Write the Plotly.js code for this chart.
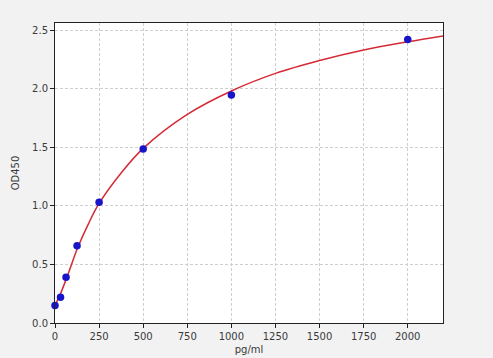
<!DOCTYPE html>
<html>
<head>
<meta charset="utf-8">
<script src="https://cdn.plot.ly/plotly-3.0.1.min.js"></script>
<style>html,body{margin:0;padding:0;background:#f2f2f2;}#chart{width:493px;height:358px;}</style>
</head>
<body>
<div id="chart"></div>
<script>
// Standard points (pg/ml vs OD450)
const concentration = [0, 31.25, 62.5, 125, 250, 500, 1000, 2000];
const od450 = [0.15, 0.22, 0.39, 0.66, 1.03, 1.485, 1.945, 2.42];

// Fitted curve
const curveX = [0, 15.6, 31.25, 62.5, 93.75, 125, 187.5, 250, 375, 500, 750, 1000, 1250, 1500, 1750, 2000, 2200];
const curveY = [0.14, 0.20, 0.25, 0.37, 0.50, 0.63, 0.84, 1.02, 1.28, 1.49, 1.78, 1.98, 2.13, 2.24, 2.33, 2.40, 2.45];

const xTicks = [0, 250, 500, 750, 1000, 1250, 1500, 1750, 2000];
const yTicks = [0.0, 0.5, 1.0, 1.5, 2.0, 2.5];
const yTickText = ['0.0', '0.5', '1.0', '1.5', '2.0', '2.5'];

const traces = [
  {x: curveX, y: curveY, type: 'scatter', mode: 'lines', line: {color: '#d42a35', width: 1.5, shape: 'spline'}, hoverinfo: 'skip'},
  {x: concentration, y: od450, type: 'scatter', mode: 'markers', marker: {color: '#1a14c8', size: 7.5, line: {width: 0}}, cliponaxis: false}
];

const axisCommon = {
  showline: true, linecolor: '#222', linewidth: 1, mirror: true,
  ticks: 'outside', ticklen: 4, tickcolor: '#222', tickwidth: 1,
  showgrid: true, gridcolor: '#cfcfcf', griddash: '3px,2px', gridwidth: 1,
  zeroline: false, tickfont: {family: 'DejaVu Sans', size: 10, color: '#3a3a3a'}
};

const layout = {
  width: 493, height: 358,
  paper_bgcolor: '#f2f2f2', plot_bgcolor: '#ffffff',
  margin: {l: 55, r: 50, t: 23, b: 35},
  showlegend: false,
  xaxis: Object.assign({}, axisCommon, {
    range: [0, 2200], tickvals: xTicks,
    title: {text: 'pg/ml', font: {family: 'DejaVu Sans', size: 10, color: '#3a3a3a'}, standoff: 4}
  }),
  yaxis: Object.assign({}, axisCommon, {
    range: [0, 2.56], tickvals: yTicks, ticktext: yTickText,
    title: {text: 'OD450', font: {family: 'DejaVu Sans', size: 10, color: '#3a3a3a'}, standoff: 10}
  })
};

Plotly.newPlot('chart', traces, layout, {staticPlot: true, displayModeBar: false});
</script>
</body>
</html>
